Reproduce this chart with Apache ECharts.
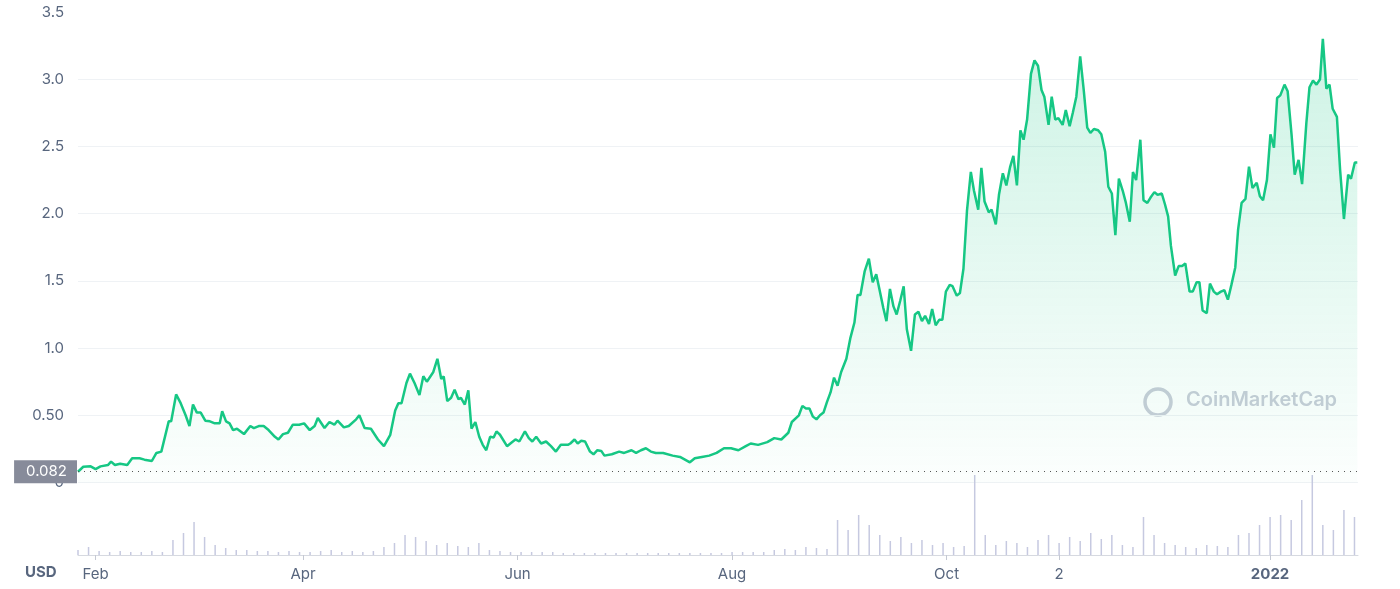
<!DOCTYPE html>
<html><head><meta charset="utf-8">
<script src="https://cdn.jsdelivr.net/npm/echarts@6/dist/echarts.min.js"></script>
<style>html,body{margin:0;padding:0;background:#fff}#c{width:1400px;height:589px}</style>
</head><body><div id="c"></div>
<script>
// day index 0 = 2021-01-27
const priceDays = [0,1.5,3.6,5,6.4,8.5,9.4,10.5,12,14,15.4,17.5,18.9,21,22.3,23.7,25.8,26.5,27.9,29.2,30.6,31.7,32.7,33.8,34.9,36.2,37.5,38.9,40.3,41,42.1,43.1,44.1,45.2,47.2,49,50,51.4,52.8,54.2,56,57,58.3,59.7,61.1,62.9,64.3,65.9,67.3,68.2,70.1,71.5,72.9,73.8,75.6,77,79.1,80,81.5,83.3,85.3,87,88.8,90.2,91.1,92,93.4,94.4,95.7,97.1,98.2,99.2,101,102.2,103.3,104,105,106.1,107.1,108.2,108.9,110,111,111.9,113,114.1,115.1,116.1,117.2,118.2,119,120,122,123.4,124.4,125.5,127.1,128.2,129.2,130.3,131.7,133.1,134.5,135.9,137.3,139.3,140,141.2,142.1,143.1,144.2,145.6,146.6,147.7,148.8,149.7,151.8,153.9,155.3,157.4,158.7,160.1,161.5,162.9,164.3,166.4,169.1,171.2,172.6,174,175.4,177.4,179.5,181.6,183.7,185.7,187.8,189.9,191.3,193.4,196,198,200,202,203,205,206,207,208,209,210,211,212,213,214,215,216,217,218.5,219.6,220.8,221.7,222.5,223.7,224.9,226,227,227.8,229,229.9,230.9,231.9,232.8,233.8,234.8,235.7,236.9,238,239,240,240.9,242,242.9,243.9,244.9,245.8,246.8,247.9,248.7,249.9,250.8,251.8,252.8,253.9,254.8,256,256.9,257.8,259,259.8,261,261.9,263,264,265.1,266,267,268,268.9,269.9,271,272,273,274,274.8,276,276.9,277.9,278.8,280,280.9,282,282.9,283.9,285,286,287,287.9,288.9,290.1,291,292.1,293,294,295,296,297.1,298,299.1,300,300.9,302.1,303,304.1,305,306.1,307,308.2,309.1,310,310.8,312,313,314,314.9,316.1,317,318.1,318.9,319.8,321,321.9,323,323.9,325,326,327,328,329.1,329.9,330.9,332,333,334,335.2,336.1,337,338.1,339.1,340.1,341,341.9,343.1,344,345.1,346,347.1,348.1,349.3,350.2,351.2,352.2,353.2,354,355,355.9,356.8,358,358.9,360,361.2,362,363.1,363.8];
const prices = [0.08,0.117,0.12,0.1,0.12,0.13,0.155,0.13,0.14,0.13,0.18,0.18,0.17,0.16,0.22,0.23,0.455,0.455,0.655,0.59,0.5,0.42,0.58,0.52,0.52,0.46,0.455,0.44,0.44,0.53,0.455,0.44,0.39,0.4,0.36,0.42,0.405,0.42,0.42,0.39,0.34,0.32,0.36,0.37,0.43,0.43,0.44,0.39,0.42,0.48,0.405,0.45,0.43,0.46,0.41,0.42,0.47,0.5,0.405,0.4,0.32,0.27,0.355,0.535,0.59,0.59,0.74,0.81,0.74,0.65,0.79,0.75,0.82,0.92,0.77,0.79,0.605,0.63,0.69,0.62,0.63,0.58,0.685,0.4,0.45,0.34,0.28,0.24,0.34,0.335,0.38,0.355,0.27,0.3,0.32,0.305,0.38,0.33,0.305,0.34,0.29,0.305,0.27,0.23,0.28,0.28,0.29,0.32,0.29,0.31,0.305,0.23,0.21,0.24,0.235,0.2,0.21,0.23,0.22,0.24,0.22,0.24,0.255,0.23,0.22,0.22,0.2,0.19,0.17,0.15,0.18,0.19,0.2,0.22,0.255,0.255,0.24,0.27,0.29,0.28,0.3,0.33,0.32,0.37,0.45,0.5,0.57,0.55,0.55,0.49,0.47,0.5,0.52,0.6,0.67,0.78,0.72,0.82,0.92,1.07,1.19,1.395,1.395,1.57,1.665,1.49,1.55,1.45,1.3,1.2,1.44,1.31,1.25,1.35,1.46,1.14,0.98,1.25,1.27,1.2,1.24,1.18,1.29,1.17,1.21,1.21,1.42,1.47,1.46,1.39,1.41,1.59,2.02,2.31,2.17,2.03,2.34,2.09,2.01,2.03,1.92,2.14,2.3,2.21,2.35,2.43,2.21,2.62,2.55,2.7,3.04,3.14,3.1,2.92,2.87,2.66,2.87,2.7,2.71,2.66,2.77,2.65,2.75,2.87,3.17,2.92,2.64,2.6,2.63,2.62,2.59,2.46,2.2,2.15,1.84,2.26,2.17,2.08,1.94,2.31,2.25,2.55,2.1,2.08,2.12,2.16,2.14,2.15,2.07,1.98,1.76,1.54,1.61,1.61,1.63,1.42,1.42,1.49,1.49,1.28,1.26,1.48,1.42,1.4,1.42,1.43,1.36,1.47,1.6,1.88,2.08,2.11,2.35,2.19,2.23,2.13,2.1,2.25,2.59,2.49,2.86,2.88,2.96,2.91,2.59,2.29,2.4,2.22,2.67,2.94,2.99,2.96,3.0,3.3,2.93,2.96,2.78,2.72,2.33,1.96,2.29,2.26,2.38,2.38];
const volDays = [0,3,6,9,12,15,18,21,24,27,30,33,36,39,42,45,48,51,54,57,60,63,66,69,72,75,78,81,84,87,90,93,96,99,102,105,108,111,114,117,120,123,126,129,132,135,138,141,144,147,150,153,156,159,162,165,168,171,174,177,180,183,186,189,192,195,198,201,204,207,210,213,216,219,222,225,228,231,234,237,240,243,246,249,252,255,258,261,264,267,270,273,276,279,282,285,288,291,294,297,300,303,306,309,312,315,318,321,324,327,330,333,336,339,342,345,348,351,354,357,360,363];
const volumes = [5,8,4,3,4,3,3,4,3,15,22,33,18,10,7,5,5,4,4,3,4,3,3,4,5,3,4,3,4,8,12,20,18,14,10,12,9,8,12,5,4,3,3,3,3,3,2,2,2,2,2,2,2,2,2,2,2,2,2,2,2,2,3,3,3,3,5,6,5,8,7,6,35,25,40,30,20,14,18,12,15,10,12,8,9,80,20,10,14,12,8,15,20,12,18,14,22,16,20,10,8,38,20,12,10,8,7,10,9,8,20,22,30,38,40,35,55,80,30,25,45,38];
const tickDays = [5,64,125,186,247,279,339];
const tickLabels = ['Feb','Apr','Jun','Aug','Oct','2','2022'];
const lastClose = 0.082;

const priceData = priceDays.map((d,i)=>[d,prices[i]]);
const volData = volDays.map((d,i)=>[d,volumes[i]]);
const chart = echarts.init(document.getElementById('c'));
const font = 'Inter, "Noto Sans", sans-serif';
chart.setOption({
  animation:false,
  grid:[{left:78,right:42,top:12,bottom:106.5},{left:78,right:42,top:470,bottom:34}],
  xAxis:[
    {type:'value',gridIndex:0,min:0,max:364,show:false},
    {type:'value',gridIndex:1,min:0,max:364,
     axisLine:{lineStyle:{color:'#d6d9e0'}},
     axisTick:{customValues:tickDays,length:5,lineStyle:{color:'#c5c9d3'}},
     splitLine:{show:false},
     axisLabel:{customValues:tickDays,color:'#58667e',fontSize:15,fontFamily:font,margin:12,
       formatter:v=>{const i=tickDays.indexOf(v);const t=tickLabels[i]||'';return t==='2022'?'{b|2022}':t;},
       rich:{b:{fontWeight:'bold',color:'#58667e',fontSize:15,fontFamily:font}}}}
  ],
  yAxis:[
    {type:'value',gridIndex:0,min:0,max:3.5,interval:0.5,
     axisLine:{show:false},axisTick:{show:false},
     splitLine:{showMaxLine:false,lineStyle:{color:'#eff2f5'}},
     axisLabel:{color:'#58667e',fontSize:15,fontFamily:font,margin:14,
       formatter:v=>v===0?'0':(v===0.5?'0.50':v.toFixed(1))}},
    {type:'value',gridIndex:1,min:0,max:85,show:false}
  ],
  graphic:[
    {type:'text',left:25,top:565,style:{text:'USD',fill:'#58667e',font:'bold 15px '+font}},
    {type:'circle',shape:{cx:1158,cy:402,r:13},style:{fill:'none',stroke:'#c9cdd8',lineWidth:3.5}},
    {type:'text',left:1186,top:390,style:{text:'CoinMarketCap',fill:'#c9cdd8',font:'600 20px '+font}}
  ],
  series:[
    {type:'line',xAxisIndex:0,yAxisIndex:0,data:priceData,symbol:'none',
     lineStyle:{color:'#16c784',width:2.5},
     areaStyle:{color:new echarts.graphic.LinearGradient(0,0,0,1,[{offset:0,color:'rgba(22,199,132,0.30)'},{offset:1,color:'rgba(22,199,132,0.02)'}])},
     markLine:{silent:true,symbol:'none',data:[{yAxis:lastClose}],
       lineStyle:{color:'#555',type:[1,5],width:1},
       label:{position:'start',formatter:'0.082',color:'#fff',backgroundColor:'#878b9a',fontSize:15,fontFamily:font,padding:[4,10,4,12],distance:1}}},
    {type:'bar',xAxisIndex:1,yAxisIndex:1,data:volData,barWidth:1.5,itemStyle:{color:'#c6c9e0'}}
  ]
});
</script></body></html>
